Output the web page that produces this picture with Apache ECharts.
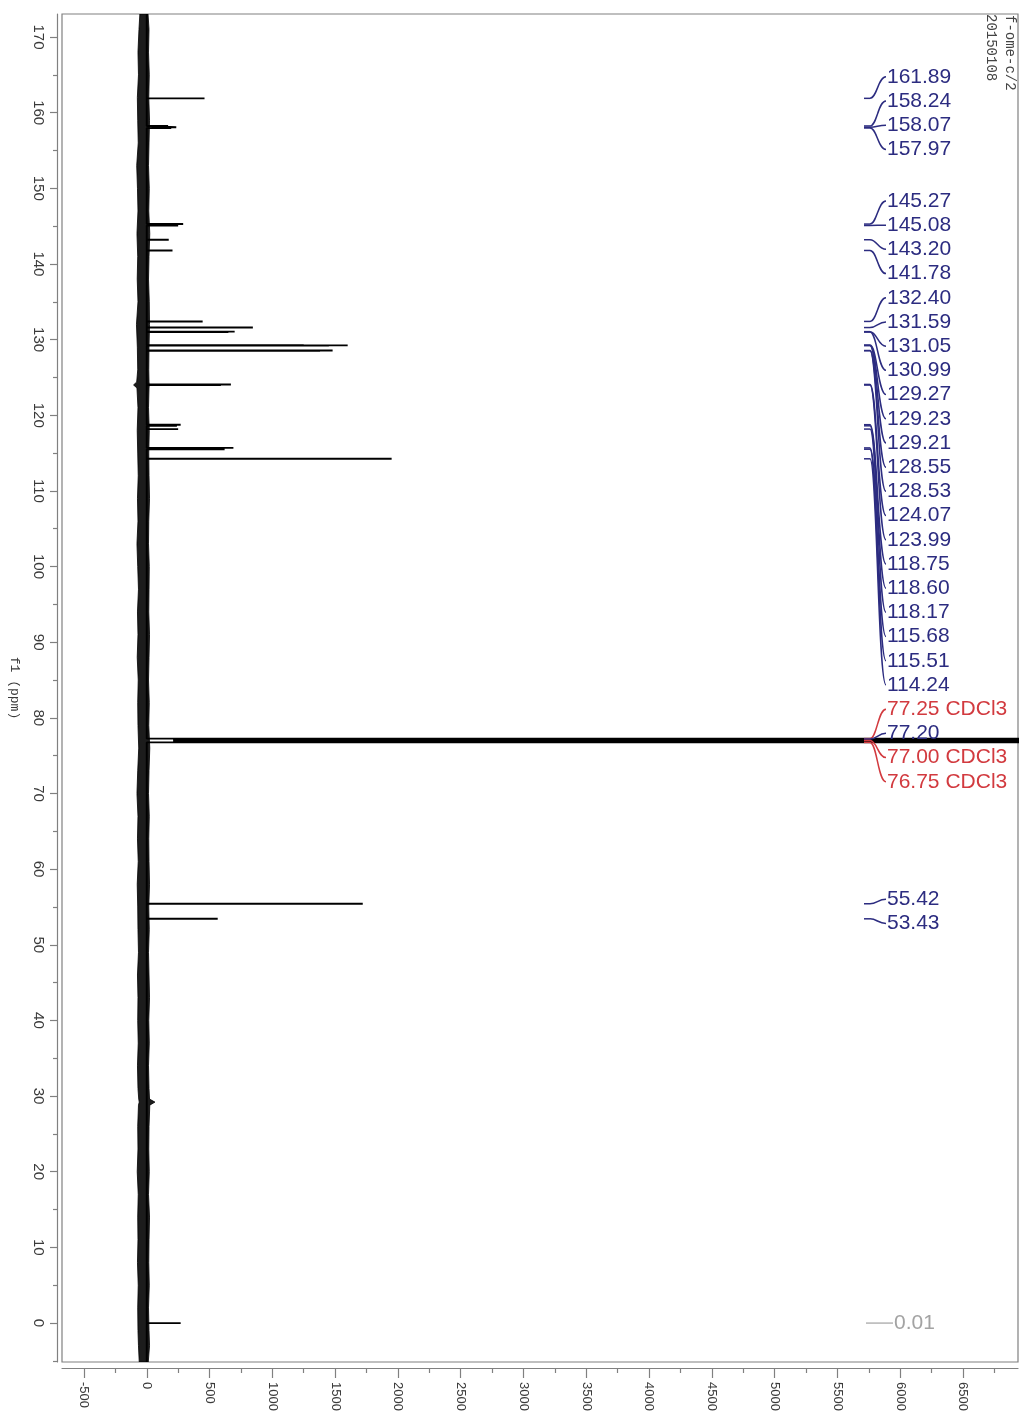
<!DOCTYPE html>
<html>
<head>
<meta charset="utf-8">
<script src="https://cdn.jsdelivr.net/npm/echarts@6/dist/echarts.min.js"></script>
<style>
  html, body { margin: 0; padding: 0; background: #fff; }
  #chart { width: 1019px; height: 1414px; }
</style>
</head>
<body>
<div id="chart"></div>
<script>
// 13C NMR spectrum of f-ome-c/2 (2015-01-08), drawn with the shift axis vertical.

// Picked peaks: chemical shift (ppm), intensity, label text
const peakShifts = [161.89, 158.24, 158.07, 157.97, 145.27, 145.08, 143.20, 141.78,
  132.40, 131.59, 131.05, 130.99, 129.27, 129.23, 129.21, 128.55, 128.53, 124.07, 123.99,
  118.75, 118.60, 118.17, 115.68, 115.51, 114.24, 77.25, 77.20, 77.00, 76.75, 55.42, 53.43, -0.01];
const peakHeights = [460, 170, 235, 195, 290, 250, 175, 205,
  445, 845, 700, 650, 1250, 1600, 1450, 1480, 1380, 670, 590,
  270, 240, 250, 690, 620, 1950, 9000, 250, 9000, 9000, 1720, 565, 270];
const peakLabels = ['161.89', '158.24', '158.07', '157.97', '145.27', '145.08', '143.20', '141.78',
  '132.40', '131.59', '131.05', '130.99', '129.27', '129.23', '129.21', '128.55', '128.53', '124.07', '123.99',
  '118.75', '118.60', '118.17', '115.68', '115.51', '114.24', '77.25 CDCl3', '77.20', '77.00 CDCl3', '76.75 CDCl3',
  '55.42', '53.43', '-0.01'];
// Peaks that share one stacked block of labels
const labelGroups = [[0, 1, 2, 3], [4, 5, 6, 7],
  [8, 9, 10, 11, 12, 13, 14, 15, 16, 17, 18, 19, 20, 21, 22, 23, 24],
  [25, 26, 27, 28], [29, 30], [31]];

// CDCl3 triplet: valleys between the lines
const solventRange = [76.7, 77.3];
const valleyShifts = [77.12, 76.88];
const valleyHeights = [210, 210];

// Baseline noise envelope (ppm, lower and upper intensity)
const noisePpm = [173.04, 171, 168, 165, 162, 159, 156, 153, 150, 147, 144, 141, 138, 135, 132, 129, 126,
  124.4, 124.0, 123.6, 121, 118, 115, 112, 109, 106, 103, 100, 97, 94, 91, 88, 85, 82, 79, 76, 73, 70, 67,
  64, 61, 58, 55, 52, 49, 46, 43, 40, 37, 34, 31, 29.6, 29.2, 28.8, 26, 23, 20, 17, 14, 11, 8, 5, 2, -1, -3, -5.16];
const noiseLow = [-55, -62, -70, -66, -75, -72, -68, -80, -74, -70, -78, -72, -76, -70, -82, -75, -72,
  -80, -105, -78, -70, -76, -72, -68, -74, -70, -78, -72, -66, -74, -70, -76, -68, -72, -70, -64, -72, -78, -70,
  -74, -68, -76, -72, -70, -66, -74, -70, -72, -68, -74, -70, -64, -60, -66, -72, -70, -76, -68, -72, -70, -74, -68, -72, -70, -66, -60];
const noiseHigh = [10, 18, 14, 20, 16, 22, 18, 14, 20, 16, 24, 18, 14, 20, 22, 18, 16,
  18, 20, 18, 14, 20, 16, 18, 22, 16, 14, 20, 18, 16, 22, 18, 14, 20, 16, 24, 18, 14, 20,
  16, 18, 22, 16, 20, 14, 18, 22, 16, 20, 14, 18, 22, 65, 24, 18, 16, 20, 14, 22, 18, 16, 20, 14, 18, 22, 12];

// Axis ticks
const ppmLabels = [0, 10, 20, 30, 40, 50, 60, 70, 80, 90, 100, 110, 120, 130, 140, 150, 160, 170];
const ppmMinor = [-5, 5, 15, 25, 35, 45, 55, 65, 75, 85, 95, 105, 115, 125, 135, 145, 155, 165];
const intLabels = [-500, 0, 500, 1000, 1500, 2000, 2500, 3000, 3500, 4000, 4500, 5000, 5500, 6000, 6500];
const intMinor = [-250, 250, 750, 1250, 1750, 2250, 2750, 3250, 3750, 4250, 4750, 5250, 5750, 6250, 6750];

const PPM_MIN = -5.155, PPM_MAX = 173.04;
const INT_MIN = -675, INT_MAX = 6938;

// Build the trace: sticks for resolved lines, a continuous path through the solvent multiplet
function buildTrace() {
  const pts = [];
  peakShifts.forEach((s, i) => pts.push({ s, h: peakHeights[i] }));
  valleyShifts.forEach((s, i) => pts.push({ s, h: valleyHeights[i] }));
  pts.sort((a, b) => b.s - a.s);
  const inSolvent = p => p.s >= solventRange[0] && p.s <= solventRange[1];
  const trace = [[0, PPM_MAX]];
  pts.forEach((p, k) => {
    if (inSolvent(p)) {
      const prev = pts[k - 1], next = pts[k + 1];
      if (!prev || !inSolvent(prev)) trace.push([0, p.s]);
      trace.push([p.h, p.s]);
      if (!next || !inSolvent(next)) trace.push([0, p.s]);
    } else {
      trace.push([0, p.s], [p.h, p.s], [0, p.s]);
    }
  });
  trace.push([0, PPM_MIN]);
  return trace;
}

const AXIS_GRAY = '#808080';
const TEXT_GRAY = '#3a3a3a';
const NAVY = '#2c2c80';
const RED = '#d23a3f';
const SANS = '"Liberation Sans", Arial, sans-serif';
const plain = v => String(v);

const chart = echarts.init(document.getElementById('chart'), null, { renderer: 'canvas' });

chart.setOption({
  animation: false,
  backgroundColor: '#fff',
  grid: {
    left: 62, right: 1, top: 14, bottom: 52, show: true, containLabel: false, outerBoundsMode: 'none',
    borderColor: AXIS_GRAY, borderWidth: 1.2
  },
  xAxis: [{
    type: 'value', min: INT_MIN, max: INT_MAX, position: 'bottom', offset: 6,
    splitLine: { show: false },
    axisLine: { show: true, onZero: false, lineStyle: { color: AXIS_GRAY, width: 1.2 } },
    axisTick: { show: true, customValues: intLabels, length: 10, lineStyle: { color: AXIS_GRAY, width: 1.2 } },
    axisLabel: { customValues: intLabels, formatter: plain, rotate: -90, margin: 14, color: TEXT_GRAY, fontFamily: SANS, fontSize: 13 }
  }, {
    type: 'value', min: INT_MIN, max: INT_MAX, position: 'bottom', offset: 6,
    splitLine: { show: false }, axisLine: { show: false, onZero: false }, axisLabel: { show: false },
    axisTick: { show: true, customValues: intMinor, length: 5, lineStyle: { color: AXIS_GRAY, width: 1.2 } }
  }],
  yAxis: [{
    type: 'value', min: PPM_MIN, max: PPM_MAX, position: 'left', offset: 5,
    name: 'f1 (ppm)', nameLocation: 'middle', nameRotate: -90, nameGap: 36,
    nameTextStyle: { fontFamily: '"Liberation Mono", "DejaVu Sans Mono", monospace', fontSize: 13, color: TEXT_GRAY },
    splitLine: { show: false },
    axisLine: { show: true, onZero: false, lineStyle: { color: AXIS_GRAY, width: 1.2 } },
    axisTick: { show: true, customValues: ppmLabels, length: 7, lineStyle: { color: AXIS_GRAY, width: 1.2 } },
    axisLabel: { customValues: ppmLabels, formatter: plain, rotate: -90, margin: 11, color: TEXT_GRAY, fontFamily: SANS, fontSize: 15 }
  }, {
    type: 'value', min: PPM_MIN, max: PPM_MAX, position: 'left', offset: 5,
    splitLine: { show: false }, axisLine: { show: false, onZero: false }, axisLabel: { show: false },
    axisTick: { show: true, customValues: ppmMinor, length: 4, lineStyle: { color: AXIS_GRAY, width: 1.2 } }
  }],
  series: [{
    name: 'baseline noise',
    type: 'custom',
    coordinateSystem: 'cartesian2d',
    xAxisIndex: 0, yAxisIndex: 0,
    silent: true,
    clip: true,
    data: [[0, 0]],
    renderItem: function (params, api) {
      const n = Math.min(noisePpm.length, noiseLow.length, noiseHigh.length);
      const pts = [];
      for (let i = 0; i < n; i++) pts.push(api.coord([noiseLow[i], noisePpm[i]]));
      for (let i = n - 1; i >= 0; i--) pts.push(api.coord([noiseHigh[i], noisePpm[i]]));
      return { type: 'polygon', shape: { points: pts }, style: { fill: '#1c1c1c', stroke: '#000', lineWidth: 0.8 } };
    }
  }, {
    name: 'spectrum',
    type: 'line',
    xAxisIndex: 0, yAxisIndex: 0,
    data: buildTrace(),
    showSymbol: false,
    symbol: 'none',
    clip: true,
    silent: true,
    lineStyle: { color: '#000', width: 1.9 }
  }]
});

// Peak labels: stacked column on the right, joined to their lines
(function drawPeakLabels() {
  const SPACING = 24.2;
  const FONT = '21px ' + SANS;
  const grid = chart.getModel().getComponent('grid').coordinateSystem.getRect();
  const labelX = grid.x + grid.width - 131;
  const anchorX = labelX - 17;
  const toPy = s => chart.convertToPixel({ gridIndex: 0 }, [0, s])[1];
  const elements = [];
  let prevEnd = -Infinity;
  labelGroups.forEach(group => {
    const pys = group.map(i => toPy(peakShifts[i]));
    const mid = (Math.min(...pys) + Math.max(...pys)) / 2;
    let start = mid - (group.length - 1) / 2 * SPACING;
    if (start < prevEnd + SPACING) start = prevEnd + SPACING;
    group.forEach((idx, k) => {
      const ly = start + k * SPACING;
      const py = pys[k];
      const text = peakLabels[idx];
      const isSolvent = text.indexOf('CDCl3') >= 0;
      const isRef = Math.abs(peakShifts[idx]) < 0.5;
      const color = isSolvent ? RED : (isRef ? '#a3a3a3' : NAVY);
      if (isRef) {
        elements.push({ type: 'line', shape: { x1: anchorX - 4, y1: py, x2: labelX + 6, y2: py },
          style: { stroke: '#a8a8a8', lineWidth: 1.3 }, z: 100 });
        elements.push({ type: 'text', x: labelX + 7, y: ly, z: 101,
          style: { text: text.replace('-', ''), fill: color, font: FONT, align: 'left', verticalAlign: 'middle' } });
      } else {
        elements.push({ type: 'bezierCurve',
          shape: { x1: labelX - 1, y1: ly, cpx1: labelX - 9, cpy1: ly, cpx2: anchorX + 7, cpy2: py, x2: anchorX, y2: py },
          style: { stroke: color, fill: 'none', lineWidth: 1.5 }, z: 100 });
        elements.push({ type: 'line', shape: { x1: anchorX, y1: py, x2: anchorX - 6, y2: py },
          style: { stroke: color, lineWidth: 1.5 }, z: 100 });
        elements.push({ type: 'text', x: labelX, y: ly, z: 101,
          style: { text: text, fill: color, font: FONT, align: 'left', verticalAlign: 'middle' } });
      }
      prevEnd = ly;
    });
  });
  // Sample name and date, written down the right edge
  elements.push({ type: 'text', x: grid.x + grid.width - 8, y: 15, rotation: -Math.PI / 2, z: 101,
    style: { text: 'f-ome-c/2', fill: '#444', font: '14px "Liberation Mono", "DejaVu Sans Mono", monospace', align: 'left', verticalAlign: 'middle' } });
  elements.push({ type: 'text', x: grid.x + grid.width - 27, y: 14, rotation: -Math.PI / 2, z: 101,
    style: { text: '20150108', fill: '#444', font: '14px "Liberation Mono", "DejaVu Sans Mono", monospace', align: 'left', verticalAlign: 'middle' } });
  chart.setOption({ graphic: { elements: elements } });
})();
</script>
</body>
</html>
